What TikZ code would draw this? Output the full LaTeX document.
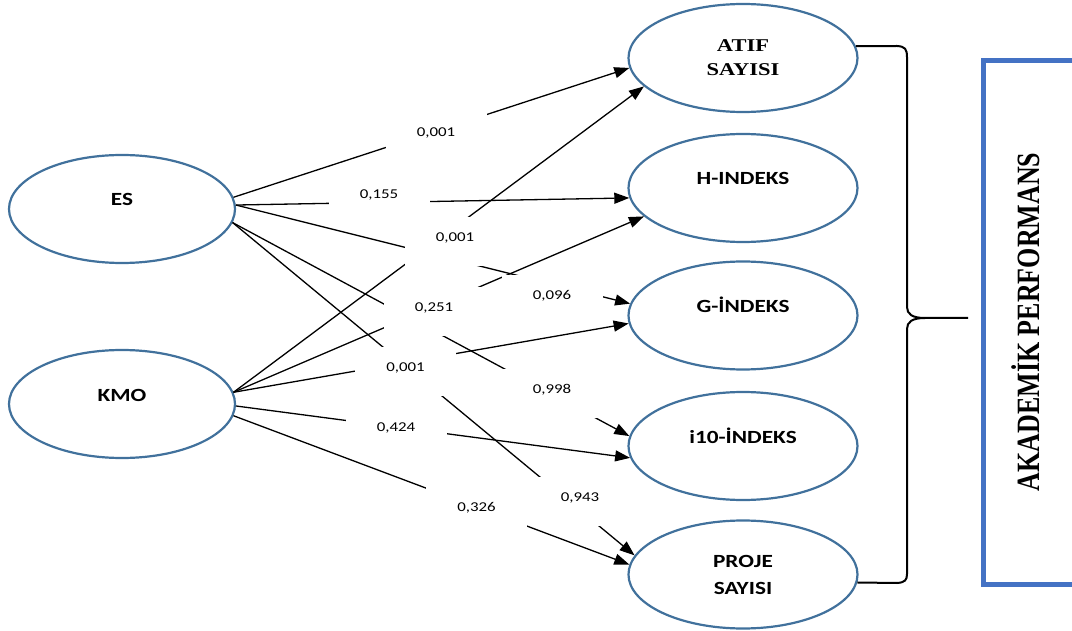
\documentclass[tikz,border=0pt]{standalone}
\usepackage{fontspec}
\usetikzlibrary{arrows.meta,shapes.geometric}
\newfontfamily\calfont[FakeStretch=1.25]{Carlito}
\newfontfamily\tmsfont[FakeStretch=1.25]{Liberation Serif}
\newfontfamily\perffont{Liberation Serif}
\definecolor{ellblue}{HTML}{41719C}
\definecolor{boxblue}{HTML}{4472C4}
\tikzset{
  var/.style={ellipse, draw=ellblue, line width=2.2pt, inner sep=0pt,
    minimum width=229pt, minimum height=108pt,
    font=\calfont\bfseries\fontsize{18.6}{27}\selectfont},
  oneline/.style={text height=12pt, text depth=18pt},
  twoline/.style={align=center},
  arr/.style={line width=1.3pt, -{Triangle[length=15pt,width=11pt]}},
  lbl/.style={fill=white, inner sep=0pt, minimum width=101pt,
    text height=24.5pt, text depth=24.5pt, anchor=base,
    font=\calfont\fontsize{13.5}{16}\selectfont},
  bracepath/.style={line width=2pt},
  panel/.style={draw=boxblue, line width=5pt},
}
\begin{document}
\begin{tikzpicture}[x=1pt,y=-1pt]
\path[use as bounding box] (0,0) rectangle (1072,631);
\clip (0,0) rectangle (1072,631);

% variables
\node[var, oneline, minimum width=226pt] (ES) at (122,209) {ES};
\node[var, oneline, minimum width=226pt] (KMO) at (122,404) {KMO};
\node[var, twoline, font=\tmsfont\bfseries\fontsize{18}{24}\selectfont] (ATIF) at (743,58) {ATIF\\SAYISI};
\node[var, oneline] (H) at (743,188) {H-INDEKS};
\node[var, oneline] (G) at (743,315.5) {G-İNDEKS};
\node[var, oneline] (I10) at (743,446) {i10-İNDEKS};
\node[var, twoline] (PROJE) at (743,574.5) {PROJE\\SAYISI};

% connectors
\draw[arr] (ES.6) -- (ATIF.185);
\draw[arr] (ES.2) -- (H.185);
\draw[arr] (ES.2) -- (G.174);
\draw[arr] (ES.-7) -- (I10.175);
\draw[arr] (ES.-7) -- (PROJE.170);
\draw[arr] (KMO.6) -- (ATIF.196);
\draw[arr] (KMO.6) -- (H.196);
\draw[arr] (KMO.6) -- (G.184);
\draw[arr] (KMO.-1) -- (I10.186);
\draw[arr] (KMO.-6) -- (PROJE.175);

% coefficient labels (white boxes)
\node[lbl] (l1) at (436,136.8) {0,001};
\node[lbl] (l2) at (379,198.8) {0,155};
\node[lbl] (l3) at (455,241.8) {0,001};
\node[lbl] (l4) at (552,299.8) {0,096};
\node[lbl] (l5) at (434,311.8) {0,251};
\node[lbl] (l6) at (405.5,371.8) {0,001};
\node[lbl] (l7) at (552,393.8) {0,998};
\node[lbl] (l8) at (396,431.3) {0,424};
\node[lbl] (l9) at (580,501.3) {0,943};
\node[lbl] (l10) at (476.5,511.3) {0,326};

% brace
\draw[bracepath] (ATIF.6) -- (897,46) .. controls (905,46.5) and (907,49) .. (907,57)
  -- (907,307) .. controls (907,314) and (912,318) .. (925,318) -- (968,318)
  (925,318) .. controls (912,318) and (907,322) .. (907,329)
  -- (907,574) .. controls (907,580) and (905,582.5) .. (897,583) -- (PROJE.-4);

% performance panel
\draw[panel] (983.5,61) rectangle (1100,584.5);
\node[rotate=90, inner sep=0pt, font=\perffont\bfseries\fontsize{26}{30}\selectfont] (perf) at (1026,322)
  {\scalebox{1}[1.25]{AKADEMİK PERFORMANS}};
\end{tikzpicture}
\end{document}
